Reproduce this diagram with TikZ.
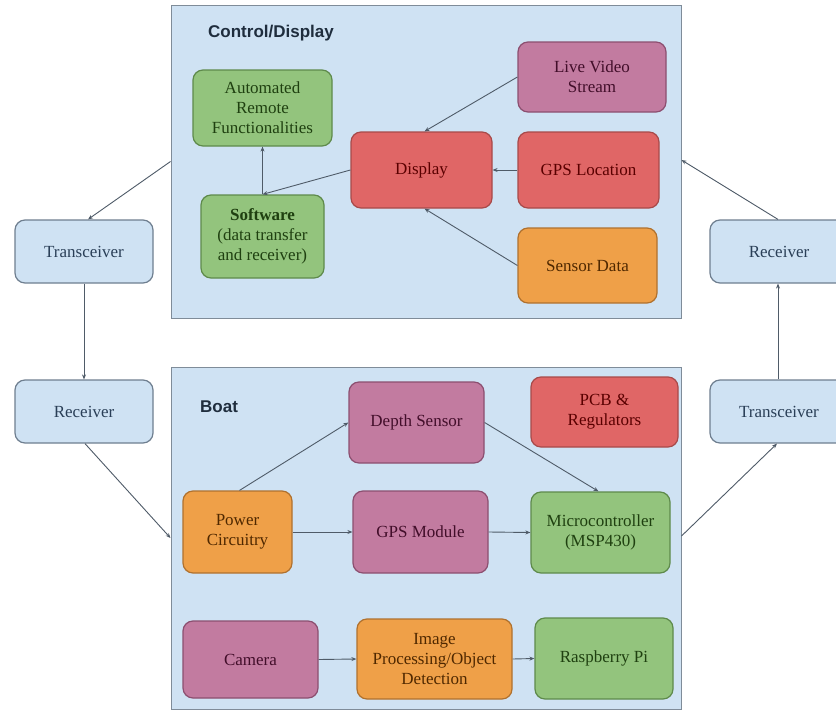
\documentclass[tikz,border=0pt]{standalone}
\usepackage{fontspec}
\setmainfont{Liberation Serif}
\newfontfamily\headfont{Liberation Sans}
\usetikzlibrary{arrows.meta}

\definecolor{paleblue}{HTML}{CFE2F3}
\definecolor{frameline}{HTML}{7F8C99}
\definecolor{blueline}{HTML}{6F7F90}
\definecolor{bluetext}{HTML}{2A3F57}
\definecolor{greenfill}{HTML}{93C47D}
\definecolor{greenline}{HTML}{5E8A4B}
\definecolor{greentext}{HTML}{1F4010}
\definecolor{redfill}{HTML}{E06666}
\definecolor{redline}{HTML}{A84A4A}
\definecolor{redtext}{HTML}{5A0000}
\definecolor{purplefill}{HTML}{C27BA0}
\definecolor{purpleline}{HTML}{8C4F70}
\definecolor{purpletext}{HTML}{420E2A}
\definecolor{orangefill}{HTML}{EFA048}
\definecolor{orangeline}{HTML}{B0712E}
\definecolor{orangetext}{HTML}{4F2800}
\definecolor{arrowcol}{HTML}{4F5B68}
\definecolor{headcol}{HTML}{1F2D3D}

\begin{document}
\begin{tikzpicture}[x=1pt,y=-1pt,
  frame/.style={draw=frameline,line width=1pt,fill=paleblue,inner sep=0pt},
  blk/.style={rounded corners=10pt,line width=1.2pt,align=center,inner sep=2pt,
    font=\fontsize{17}{20}\selectfont},
  bluebox/.style={blk,draw=blueline,fill=paleblue,text=bluetext},
  greenbox/.style={blk,draw=greenline,fill=greenfill,text=greentext},
  redbox/.style={blk,draw=redline,fill=redfill,text=redtext},
  purplebox/.style={blk,draw=purpleline,fill=purplefill,text=purpletext},
  orangebox/.style={blk,draw=orangeline,fill=orangefill,text=orangetext},
  heading/.style={anchor=west,inner sep=0pt,text=headcol,
    font=\headfont\bfseries\fontsize{17}{20}\selectfont},
  link/.style={draw=arrowcol,line width=0.9pt,-{Stealth[length=5pt,width=4pt]}},
  sz/.style 2 args={minimum width=#1pt,minimum height=#2pt}]

\clip (0,0) rectangle (836,712);
\fill[white] (0,0) rectangle (836,712);

% the two groups
\node[frame,sz={510}{313}] (ctrl) at (426,161.5) {};
\node[frame,sz={510}{342}] (boat) at (426,538) {};
\node[heading] (ctrlhead) at (208,33) {Control/Display};
\node[heading] (boathead) at (200,407) {Boat};

% control / display blocks
\node[greenbox,sz={139}{76}] (auto) at (262.5,108) {Automated\\Remote\\Functionalities};
\node[greenbox,sz={123}{83}] (soft) at (262.5,236.5) {\textbf{Software}\\(data transfer\\and receiver)};
\node[redbox,sz={141}{76}] (disp) at (421.5,170) {Display};
\node[purplebox,sz={148}{70}] (live) at (592,77) {Live Video\\Stream};
\node[redbox,sz={141}{76}] (gpsl) at (588.5,170) {GPS Location};
\node[orangebox,sz={139}{75}] (sens) at (587.5,265.5) {Sensor Data};

% radio links
\node[bluebox,sz={138}{63}] (txL) at (84,251.5) {Transceiver};
\node[bluebox,sz={138}{63}] (rxL) at (84,411.5) {Receiver};
\node[bluebox,sz={138}{63}] (rxR) at (779,251.5) {Receiver};
\node[bluebox,sz={138}{63}] (txR) at (779,411.5) {Transceiver};

% boat blocks
\node[purplebox,sz={135}{81}] (dep) at (416.5,422.5) {Depth Sensor};
\node[redbox,sz={147}{70}] (pcb) at (604.5,412) {PCB \&\\Regulators};
\node[orangebox,sz={109}{82}] (pow) at (237.5,532) {Power\\Circuitry};
\node[purplebox,sz={135}{82}] (gpsm) at (420.5,532) {GPS Module};
\node[greenbox,sz={139}{81}] (mcu) at (600.5,532.5) {Microcontroller\\(MSP430)};
\node[purplebox,sz={135}{77}] (cam) at (250.5,659.5) {Camera};
\node[orangebox,sz={155}{80}] (img) at (434.5,659) {Image\\Processing/Object\\Detection};
\node[greenbox,sz={138}{81}] (rpi) at (604,658.5) {Raspberry Pi};

% control / display connectors
\draw[link] (live.west) -- ([xshift=3pt]disp.north);
\draw[link] (gpsl.west) -- (disp.east);
\draw[link] (sens.west) -- ([xshift=3pt]disp.south);
\draw[link] (disp.west) -- (soft.north);
\draw[link] (soft.north) -- (auto.south);

% radio connectors
\draw[link] (ctrl.west) -- ([xshift=4pt]txL.north);
\draw[link] (txL.south) -- (rxL.north);
\draw[link] ([xshift=1pt]rxL.south) -- (boat.west);
\draw[link] ([yshift=2pt]boat.east) -- ([xshift=-2pt]txR.south);
\draw[link] ([xshift=-1pt]txR.north) -- ([xshift=-1pt]rxR.south);
\draw[link] ([xshift=-1pt]rxR.north) -- ([yshift=1.5pt]ctrl.east);

% boat connectors
\draw[link] ([xshift=2pt]pow.north) -- (dep.west);
\draw[link] (dep.east) -- ([xshift=-2pt]mcu.north);
\draw[link] (pow.east) -- (gpsm.west);
\draw[link] (gpsm.east) -- (mcu.west);
\draw[link] (cam.east) -- (img.west);
\draw[link] (img.east) -- (rpi.west);
\end{tikzpicture}
\end{document}
